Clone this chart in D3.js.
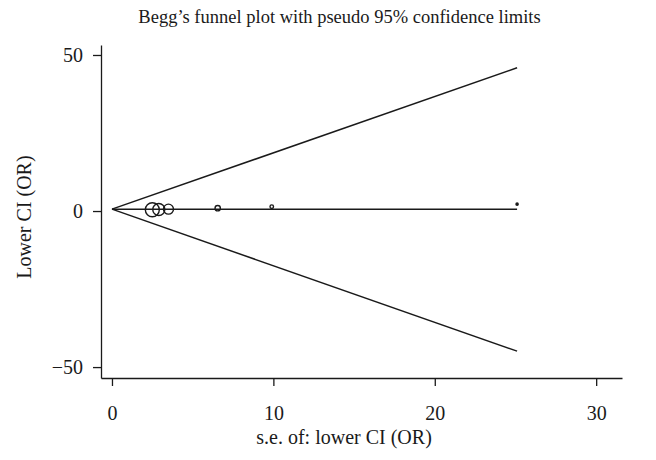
<!DOCTYPE html>
<html>
<head>
<meta charset="utf-8">
<script src="https://cdn.jsdelivr.net/npm/d3@7"></script>
<style>
  body { margin: 0; background: #fff; }
  text { font-family: "Liberation Serif", "DejaVu Serif", serif; fill: #1a1a1a; }
</style>
</head>
<body>
<div id="vis"></div>
<script>
// study values
var studySe    = [2.5, 2.9, 3.5, 6.55, 9.9, 25.1];
var studyValue = [0.4, 0.5, 0.6, 0.9, 1.4, 2.2];
var studyWeight = studySe.map(function(s) { return 1 / (s * s); });

// pooled estimate and pseudo 95% limits
var pooled = 0.6;
var funnelSe    = [0, 25.1];
var funnelUpper = [0.6, 45.9];
var funnelLower = [0.6, -44.9];

var xTicks = [0, 10, 20, 30];
var yTicks = [-50, 0, 50];

var margin = {top: 45, right: 34, bottom: 82, left: 101},
    width = 656 - margin.left - margin.right,
    height = 460 - margin.top - margin.bottom;

var svg = d3.select("#vis")
  .append("svg")
  .attr("width", 656)
  .attr("height", 460)
  .append("g")
  .attr("transform", "translate(" + margin.left + "," + margin.top + ")");

var x = d3.scaleLinear().domain([-0.68, 31.6]).range([0, width]);
var y = d3.scaleLinear().domain([-53.5, 53.2]).range([height, 0]);
var r = d3.scaleSqrt().domain([0, d3.max(studyWeight)]).range([0, 7]);

// axes
var xAxis = svg.append("g")
  .attr("transform", "translate(0," + height + ")")
  .call(d3.axisBottom(x).tickValues(xTicks).tickSize(8).tickPadding(20).tickSizeOuter(0));
var yAxis = svg.append("g")
  .call(d3.axisLeft(y).tickValues(yTicks).tickSize(8).tickPadding(10).tickSizeOuter(0));

[xAxis, yAxis].forEach(function(a) {
  a.select(".domain").attr("stroke", "#1a1a1a").attr("stroke-width", 1.3);
  a.selectAll(".tick line").attr("stroke", "#1a1a1a").attr("stroke-width", 1.3);
  a.selectAll(".tick text").style("font-size", "20px").attr("fill", "#1a1a1a");
});

// funnel lines
var line = d3.line()
  .x(function(d) { return x(d[0]); })
  .y(function(d) { return y(d[1]); });

var upper = funnelSe.map(function(s, i) { return [s, funnelUpper[i]]; });
var lower = funnelSe.map(function(s, i) { return [s, funnelLower[i]]; });
var center = [[funnelSe[0], pooled], [funnelSe[1], pooled]];

[upper, lower, center].forEach(function(pts) {
  svg.append("path")
    .datum(pts)
    .attr("fill", "none")
    .attr("stroke", "#1a1a1a")
    .attr("stroke-width", 1.5)
    .attr("d", line);
});

// studies
svg.selectAll("circle.study")
  .data(studySe)
  .enter().append("circle")
  .attr("class", "study")
  .attr("cx", function(d) { return x(d); })
  .attr("cy", function(d, i) { return y(studyValue[i]); })
  .attr("r", function(d, i) { return Math.max(r(studyWeight[i]), 1.1); })
  .attr("fill", function(d, i) { return r(studyWeight[i]) < 1.1 ? "#1a1a1a" : "none"; })
  .attr("stroke", "#1a1a1a")
  .attr("stroke-width", 1.4);

// titles
svg.append("text")
  .attr("x", width / 2 - 22)
  .attr("y", -22)
  .attr("text-anchor", "middle")
  .style("font-size", "18.5px")
  .text("Begg\u2019s funnel plot with pseudo 95% confidence limits");

svg.append("text")
  .attr("x", x(15) - 10)
  .attr("y", height + 66)
  .attr("text-anchor", "middle")
  .style("font-size", "20px")
  .text("s.e. of: lower CI (OR)");

svg.append("text")
  .attr("transform", "translate(" + (-70) + "," + (y(0) + 6) + ") rotate(-90)")
  .attr("text-anchor", "middle")
  .style("font-size", "20px")
  .text("Lower CI (OR)");
</script>
</body>
</html>
